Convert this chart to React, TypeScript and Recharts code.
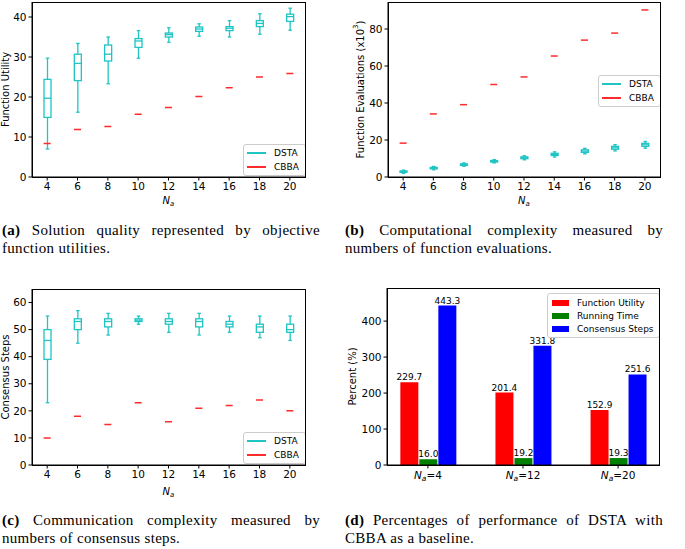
import React from 'react';
import {
  Bar,
  BarChart,
  ComposedChart,
  LabelList,
  Legend,
  Scatter,
  XAxis,
  YAxis,
} from 'recharts';

const FONT = "'DejaVu Sans', sans-serif";
const DSTA_COLOR = '#1fc4c4';
const CBBA_COLOR = '#ff2b2b';

const agentCounts = ['4', '6', '8', '10', '12', '14', '16', '18', '20'];
const methodNames = ['DSTA', 'CBBA'];

// (a) function utility
const utilLo = [7.0, 16.2, 23.3, 29.7, 33.7, 35.2, 35.0, 35.7, 36.7];
const utilQ1 = [14.9, 24.1, 29.0, 32.4, 35.0, 36.4, 36.6, 37.6, 38.9];
const utilMed = [19.7, 28.4, 30.7, 34.0, 35.6, 37.0, 37.2, 38.4, 40.1];
const utilQ3 = [24.4, 30.7, 33.0, 34.6, 36.0, 37.5, 37.6, 39.1, 40.7];
const utilHi = [29.7, 33.4, 35.0, 36.6, 37.3, 38.3, 39.1, 40.8, 42.2];
const utilCbba = [8.4, 11.9, 12.6, 15.7, 17.4, 20.1, 22.3, 25.0, 25.9];

// (b) function evaluations (x10^3)
const evalLo = [2.0, 3.9, 5.8, 7.6, 9.3, 10.8, 12.5, 14.1, 15.6];
const evalQ1 = [2.5, 4.4, 6.3, 8.1, 9.9, 11.6, 13.3, 15.0, 16.6];
const evalMed = [2.9, 4.8, 6.7, 8.5, 10.4, 12.2, 14.0, 15.8, 17.4];
const evalQ3 = [3.3, 5.2, 7.1, 8.9, 10.9, 12.8, 14.7, 16.6, 18.2];
const evalHi = [3.7, 5.7, 7.6, 9.4, 11.5, 13.6, 15.5, 17.5, 19.2];
const evalCbba = [18.3, 34.1, 39.1, 50.0, 54.1, 65.4, 74.0, 77.8, 90.3];

// (c) consensus steps
const stepLo = [23, 45, 48, 52, 49, 48, 49, 47, 46];
const stepQ1 = [39, 50, 51, 53, 52, 51, 51, 49, 49];
const stepMed = [46, 53, 53, 53.5, 53, 53, 52, 51, 50];
const stepQ3 = [50, 54, 54, 54, 54, 54, 53, 52, 52];
const stepHi = [55, 57, 56, 55, 56, 56, 55, 55, 55];
const stepCbba = [10, 18, 15, 23, 16, 21, 22, 24, 20];

// (d) percentages, CBBA as baseline
const groupAgents = [4, 12, 20];
const metricNames = ['Function Utility', 'Running Time', 'Consensus Steps'];
const utilityPct = [229.7, 201.4, 152.9];
const runningPct = [16.0, 19.2, 19.3];
const consensusPct = [443.3, 331.8, 251.6];

const makeRows = (
  lo: number[],
  q1: number[],
  med: number[],
  q3: number[],
  hi: number[],
  cbba: number[]
) =>
  agentCounts.map((n, i) => ({
    n,
    lo: lo[i],
    q1: q1[i],
    med: med[i],
    q3: q3[i],
    hi: hi[i],
    range: [lo[i], hi[i]],
    cbba: cbba[i],
  }));

const utilRows = makeRows(utilLo, utilQ1, utilMed, utilQ3, utilHi, utilCbba);
const evalRows = makeRows(evalLo, evalQ1, evalMed, evalQ3, evalHi, evalCbba);
const stepRows = makeRows(stepLo, stepQ1, stepMed, stepQ3, stepHi, stepCbba);

const pctRows = groupAgents.map((g, i) => ({
  idx: i,
  utility: utilityPct[i],
  running: runningPct[i],
  consensus: consensusPct[i],
}));

// box + whiskers drawn inside the [lo, hi] range bar
const BoxShape = (props: any) => {
  const { x, y, width, height, payload } = props;
  const top = Math.min(y, y + height);
  const bottom = Math.max(y, y + height);
  const span = payload.hi - payload.lo;
  const py = (v: number) => bottom - ((v - payload.lo) / span) * (bottom - top);
  const cx = x + width / 2;
  const cap = width / 4;
  return (
    <g stroke={DSTA_COLOR} fill="none" strokeWidth={1.3}>
      <line x1={cx} x2={cx} y1={py(payload.hi)} y2={py(payload.q3)} />
      <line x1={cx} x2={cx} y1={py(payload.q1)} y2={py(payload.lo)} />
      <line x1={cx - cap} x2={cx + cap} y1={py(payload.hi)} y2={py(payload.hi)} />
      <line x1={cx - cap} x2={cx + cap} y1={py(payload.lo)} y2={py(payload.lo)} />
      <rect x={x} y={py(payload.q3)} width={width} height={py(payload.q1) - py(payload.q3)} />
      <line x1={x} x2={x + width} y1={py(payload.med)} y2={py(payload.med)} />
    </g>
  );
};

const DashShape = (props: any) => {
  const { cx, cy } = props;
  return <line x1={cx - 3.5} x2={cx + 3.5} y1={cy} y2={cy} stroke={CBBA_COLOR} strokeWidth={1.5} />;
};

const ordered = (payload: any[] | undefined, order: string[]) =>
  [...(payload || [])].sort((a, b) => order.indexOf(a.value) - order.indexOf(b.value));

const legendBox = {
  background: 'rgba(255,255,255,0.85)',
  border: '1px solid #cccccc',
  borderRadius: 3,
  fontFamily: FONT,
  fontSize: 9,
  color: '#000',
};

const LineLegend = (props: any) => (
  <div style={{ ...legendBox, padding: '1px 6px 1px 3px' }}>
    {ordered(props.payload, methodNames).map((e: any) => (
      <div key={e.value} style={{ display: 'flex', alignItems: 'center', height: 14 }}>
        <span style={{ display: 'inline-block', width: 19, height: 2, background: e.color, marginRight: 8 }} />
        <span>{e.value}</span>
      </div>
    ))}
  </div>
);

const BarLegend = (props: any) => (
  <div style={{ ...legendBox, padding: '2px 5px 2px 4px' }}>
    {ordered(props.payload, metricNames).map((e: any) => (
      <div key={e.value} style={{ display: 'flex', alignItems: 'center', height: 13 }}>
        <span style={{ display: 'inline-block', width: 17, height: 6, background: e.color, marginRight: 8 }} />
        <span>{e.value}</span>
      </div>
    ))}
  </div>
);

const yTitle = (content: React.ReactNode, x: number) => (props: any) => {
  const vb = props.viewBox;
  const cy = vb.y + vb.height / 2;
  return (
    <text
      x={x}
      y={cy}
      transform={`rotate(-90 ${x} ${cy})`}
      textAnchor="middle"
      dominantBaseline="central"
      fontSize={10}
      fontFamily={FONT}
      fill="#000"
    >
      {content}
    </text>
  );
};

const naTitle = (offset: number) => (props: any) => {
  const vb = props.viewBox;
  return (
    <text x={vb.x + vb.width / 2} y={vb.y + offset} textAnchor="middle" fontSize={10} fontFamily={FONT} fill="#000">
      <tspan fontStyle="italic">N</tspan>
      <tspan fontStyle="italic" fontSize={7} dy={2}>a</tspan>
    </text>
  );
};

const GroupTick = (props: any) => {
  const { x, y, payload } = props;
  return (
    <text x={x} y={y + 8} textAnchor="middle" fontSize={10.5} fontFamily={FONT} fill="#000">
      <tspan fontStyle="italic">N</tspan>
      <tspan fontStyle="italic" fontSize={7.5} dy={2}>a</tspan>
      <tspan dy={-2}>={groupAgents[payload.value]}</tspan>
    </text>
  );
};

const tickStyle = { fontSize: 10.5, fill: '#000', fontFamily: FONT };
const valueStyle = { fontSize: 9, fill: '#000', fontFamily: FONT };
const blackLine = { stroke: '#000' };

// plot frame (matplotlib-style box around the axes)
function Frame(props: { left: number; top: number; width: number; height: number }) {
  return (
    <div
      style={{
        position: 'absolute',
        left: props.left - 0.5,
        top: props.top - 0.5,
        width: props.width + 1,
        height: props.height + 1,
        border: '1px solid #000',
        boxSizing: 'border-box',
        pointerEvents: 'none',
      }}
    />
  );
}

function BoxPanel(props: {
  rows: any[];
  left: number;
  top: number;
  width: number;
  height: number;
  margin: any;
  yWidth: number;
  xHeight: number;
  domain: number[];
  ticks: number[];
  title: React.ReactNode;
  titleX: number;
  naOffset: number;
  legendPos: { left: number; top: number };
}) {
  const m = props.margin;
  const plotLeft = m.left + props.yWidth;
  const plotW = props.width - plotLeft - m.right;
  const plotH = props.height - m.top - props.xHeight - m.bottom;
  return (
    <div style={{ position: 'absolute', left: props.left, top: props.top, width: props.width, height: props.height }}>
      <ComposedChart width={props.width} height={props.height} data={props.rows} margin={m}>
        <XAxis
          dataKey="n"
          tick={tickStyle}
          tickSize={3.5}
          tickLine={blackLine}
          axisLine={blackLine}
          height={props.xHeight}
          interval={0}
          label={naTitle(props.naOffset)}
        />
        <YAxis
          domain={props.domain}
          ticks={props.ticks}
          tick={tickStyle}
          tickSize={3.5}
          tickLine={blackLine}
          axisLine={blackLine}
          width={props.yWidth}
          allowDataOverflow
          label={yTitle(props.title, props.titleX)}
        />
        <Bar dataKey="range" name={methodNames[0]} fill={DSTA_COLOR} barSize={7} shape={BoxShape} isAnimationActive={false} />
        <Scatter dataKey="cbba" name={methodNames[1]} fill={CBBA_COLOR} shape={DashShape} isAnimationActive={false} />
        <Legend
          content={LineLegend}
          layout="vertical"
          align="center"
          verticalAlign="middle"
          wrapperStyle={{ left: props.legendPos.left, top: props.legendPos.top, width: 'auto' }}
        />
      </ComposedChart>
      <Frame left={plotLeft} top={m.top} width={plotW} height={plotH} />
    </div>
  );
}

function Caption(props: { tag: string; line1: string; line2: string; left: number; top: number }) {
  return (
    <div
      style={{
        position: 'absolute',
        left: props.left,
        top: props.top,
        width: 318,
        fontFamily: "'Liberation Serif', serif",
        fontSize: 15,
        letterSpacing: 0.3,
        lineHeight: '18px',
        color: '#000',
      }}
    >
      <div style={{ textAlign: 'justify', textAlignLast: 'justify', whiteSpace: 'nowrap' }}>
        <b>{props.tag}</b> {props.line1}
      </div>
      <div>{props.line2}</div>
    </div>
  );
}

export default function App() {
  const pctMargin = { top: 18, right: 26, left: 0, bottom: 0 };
  return (
    <div style={{ position: 'absolute', left: 0, top: 0, width: 685, height: 549, background: '#fff', overflow: 'hidden' }}>
      <BoxPanel
        rows={utilRows}
        left={0}
        top={0}
        width={340}
        height={210}
        margin={{ top: 2, right: 35, left: 0, bottom: 0 }}
        yWidth={32}
        xHeight={33}
        domain={[0, 43.75]}
        ticks={[0, 10, 20, 30, 40]}
        title="Function Utility"
        titleX={5}
        naOffset={27}
        legendPos={{ left: 243, top: 144 }}
      />
      <BoxPanel
        rows={evalRows}
        left={340}
        top={0}
        width={345}
        height={210}
        margin={{ top: 2, right: 25, left: 0, bottom: 0 }}
        yWidth={48}
        xHeight={33}
        domain={[0, 94.6]}
        ticks={[0, 20, 40, 60, 80]}
        title={
          <>
            <tspan>Function Evaluations (x10</tspan>
            <tspan fontSize={7} dy={-4}>3</tspan>
            <tspan dy={4}>)</tspan>
          </>
        }
        titleX={20}
        naOffset={27}
        legendPos={{ left: 258, top: 75 }}
      />
      <BoxPanel
        rows={stepRows}
        left={0}
        top={270}
        width={340}
        height={230}
        margin={{ top: 19, right: 35, left: 0, bottom: 0 }}
        yWidth={32}
        xHeight={35}
        domain={[0, 65]}
        ticks={[0, 10, 20, 30, 40, 50, 60]}
        title="Consensus Steps"
        titleX={5}
        naOffset={30}
        legendPos={{ left: 243, top: 162 }}
      />
      <div style={{ position: 'absolute', left: 340, top: 270, width: 345, height: 230 }}>
        <BarChart width={345} height={230} data={pctRows} margin={pctMargin} barGap={1}>
          <XAxis
            type="number"
            dataKey="idx"
            domain={[-0.43, 2.43]}
            ticks={[0, 1, 2]}
            tick={GroupTick}
            tickSize={3.5}
            tickLine={blackLine}
            axisLine={blackLine}
            height={35}
            allowDataOverflow
          />
          <YAxis
            domain={[0, 492]}
            ticks={[0, 100, 200, 300, 400]}
            tick={tickStyle}
            tickSize={3.5}
            tickLine={blackLine}
            axisLine={blackLine}
            width={47}
            allowDataOverflow
            label={yTitle('Percent (%)', 12)}
          />
          <Bar dataKey="utility" name={metricNames[0]} fill="#ff0000" barSize={18} isAnimationActive={false}>
            <LabelList dataKey="utility" position="top" offset={2} formatter={(v: any) => Number(v).toFixed(1)} style={valueStyle} />
          </Bar>
          <Bar dataKey="running" name={metricNames[1]} fill="#008000" barSize={18} isAnimationActive={false}>
            <LabelList dataKey="running" position="top" offset={2} formatter={(v: any) => Number(v).toFixed(1)} style={valueStyle} />
          </Bar>
          <Bar dataKey="consensus" name={metricNames[2]} fill="#0000ff" barSize={18} isAnimationActive={false}>
            <LabelList dataKey="consensus" position="top" offset={2} formatter={(v: any) => Number(v).toFixed(1)} style={valueStyle} />
          </Bar>
          <Legend
            content={BarLegend}
            layout="vertical"
            align="center"
            verticalAlign="middle"
            wrapperStyle={{ left: 207, top: 23, width: 'auto' }}
          />
        </BarChart>
        <Frame left={47} top={18} width={345 - 47 - 26} height={230 - 18 - 35} />
      </div>
      <Caption tag="(a)" line1="Solution quality represented by objective" line2="function utilities." left={2} top={221} />
      <Caption tag="(b)" line1="Computational complexity measured by" line2="numbers of function evaluations." left={345} top={221} />
      <Caption tag="(c)" line1="Communication complexity measured by" line2="numbers of consensus steps." left={2} top={511} />
      <Caption tag="(d)" line1="Percentages of performance of DSTA with" line2="CBBA as a baseline." left={345} top={511} />
    </div>
  );
}
